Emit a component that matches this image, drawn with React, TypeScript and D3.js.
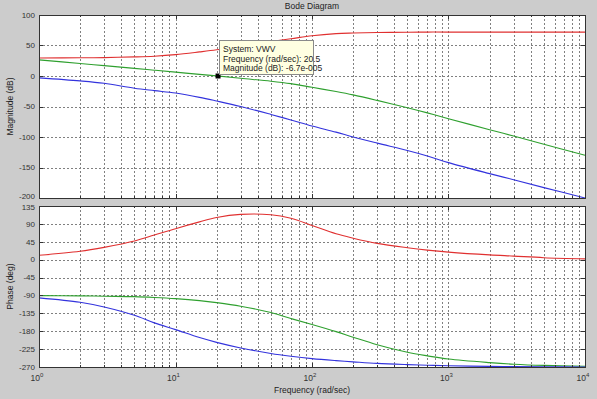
import React from 'react';
import * as d3 from 'd3';

const freq = [1, 2, 3, 5, 7, 10, 15, 20, 30, 50, 70, 100, 150, 200, 300, 500, 700, 1000, 2000, 3000, 5000, 10000];

const redMag = [29.5, 29.8, 30.2, 31.3, 32.5, 35, 39.5, 43, 49, 56.5, 61, 66, 69.5, 70.5, 71.3, 71.8, 72, 72, 72, 72, 72, 72];
const greenMag = [26.5, 20.5, 17, 12.5, 9.5, 6.3, 2.7, 0.2, -3.8, -8.5, -12.5, -18.5, -25.5, -31, -40, -52, -60.5, -70, -88, -98.5, -112, -130];
const blueMag = [-3, -8, -12, -20, -24, -28, -35, -41, -50, -63, -72, -82, -92, -100, -110, -122, -131, -142, -160, -170, -183, -200];

const redPhase = [11, 21, 31, 47, 62, 78, 95, 106, 114, 113, 104, 86, 65, 54, 41, 30, 24, 19, 12, 9, 5, 2];
const greenPhase = [-90.5, -91, -92, -93, -95, -98, -103, -108, -117, -133, -148, -163, -181, -195, -214, -233, -242, -250, -259, -263, -266, -268];
const bluePhase = [-96, -107, -119, -140, -159, -176, -196, -208, -222, -236, -243, -249, -254, -257, -261, -264, -265.5, -267, -268.5, -269, -269.5, -270];

const magTicks = [100, 50, 0, -50, -100, -150, -200];
const phaseTicks = [135, 90, 45, 0, -45, -90, -135, -180, -225, -270];
const decadeExps = [0, 1, 2, 3, 4];

const tipFreq = 20.5;
const tipMag = 0;
const tipLines = ['System: VWV', 'Frequency (rad/sec): 20.5', 'Magnitude (dB): -6.7e-005'];

const W = 597, H = 399;
const FONT = '"Liberation Sans", Arial, sans-serif';

const x = d3.scaleLog().domain([1, 1e4]).range([39, 585]);
const yMag = d3.scaleLinear().domain([-200, 100]).range([198, 15]);
const yPh = d3.scaleLinear().domain([-270, 135]).range([367, 206]);

const minorFreqs: number[] = [];
for (let e = 0; e < 4; e++) for (let k = 1; k <= 9; k++) minorFreqs.push(k * Math.pow(10, e));
minorFreqs.push(10000);

const px = (v: number) => Math.round(v) + 0.5;

function Panel({ y, ticks, series, labelShift }: { y: d3.ScaleLinear<number, number>, ticks: number[], series: { vals: number[], color: string }[], labelShift: (t: number) => number }) {
  const [y0, y1] = y.range();
  const top = Math.min(y0, y1), bot = Math.max(y0, y1);
  const left = x.range()[0], right = x.range()[1];
  const line = d3.line<number>()
    .x((_, i) => x(freq[i]))
    .y(d => y(d))
    .curve(d3.curveCatmullRom.alpha(0.5));
  return (
    <g>
      <rect x={left} y={top} width={right - left} height={bot - top} fill="#fff" />
      {minorFreqs.map(f => (
        <line key={'v' + f} x1={px(x(f))} x2={px(x(f))} y1={top} y2={bot}
          stroke="#808080" strokeDasharray="2,2" strokeWidth={1} />
      ))}
      {ticks.map(t => (
        <line key={'h' + t} x1={left} x2={right} y1={px(y(t))} y2={px(y(t))}
          stroke="#808080" strokeDasharray="2,2" strokeWidth={1} />
      ))}
      {series.map((s, i) => (
        <path key={i} d={line(s.vals) || ''} fill="none" stroke={s.color} strokeWidth={1.1} />
      ))}
      {ticks.map(t => (
        <g key={'t' + t}>
          <line x1={left} x2={left + 4} y1={px(y(t))} y2={px(y(t))} stroke="#333" />
          <line x1={right - 4} x2={right} y1={px(y(t))} y2={px(y(t))} stroke="#333" />
          <text x={left - 4} y={y(t) + labelShift(t)} dy="0.35em" textAnchor="end" fontSize={8} fill="#333" fontFamily={FONT}>{t}</text>
        </g>
      ))}
      {minorFreqs.map(f => {
        const major = Math.abs(Math.log10(f) - Math.round(Math.log10(f))) < 1e-9;
        const len = major ? 4 : 2;
        return (
          <g key={'xt' + f}>
            <line x1={px(x(f))} x2={px(x(f))} y1={top} y2={top + len} stroke="#333" />
            <line x1={px(x(f))} x2={px(x(f))} y1={bot - len} y2={bot} stroke="#333" />
          </g>
        );
      })}
      <rect x={left + 0.5} y={top + 0.5} width={right - left} height={bot - top} fill="none" stroke="#333" strokeWidth={1} />
    </g>
  );
}

export default function App() {
  const mx = x(tipFreq), my = yMag(tipMag);
  return (
    <svg width={W} height={H} style={{ position: 'fixed', left: 0, top: 0 }} fontFamily={FONT}>
      <rect x={0} y={0} width={W} height={H} fill="#cccccc" />
      <text x={312} y={6} dy="0.35em" textAnchor="middle" fontSize={8.5} fill="#222">Bode Diagram</text>

      <Panel y={yMag} ticks={magTicks} labelShift={t => (t === -200 ? -1.5 : 0)} series={[
        { vals: redMag, color: '#e03030' },
        { vals: greenMag, color: '#2fa02f' },
        { vals: blueMag, color: '#3333dd' },
      ]} />
      <Panel y={yPh} ticks={phaseTicks} labelShift={t => (t === 135 ? 1.5 : 0)} series={[
        { vals: redPhase, color: '#e03030' },
        { vals: greenPhase, color: '#2fa02f' },
        { vals: bluePhase, color: '#3333dd' },
      ]} />

      {/* data tip */}
      <rect x={mx - 2.5} y={my - 2.5} width={5} height={5} fill="#000" />
      <rect x={219.5} y={40.5} width={94} height={34} fill="#ffffe1" stroke="#8a8a8a" />
      {tipLines.map((t, i) => (
        <text key={i} x={223} y={49 + i * 9.6} dy="0.35em" fontSize={8.5} fill="#222">{t}</text>
      ))}

      {/* x tick labels 10^n */}
      {decadeExps.map(e => (
        <text key={e} x={x(Math.pow(10, e)) - 2} y={378} dy="0.35em" textAnchor="middle" fontSize={8.5} fill="#333">
          10<tspan dy="-4" fontSize={6}>{e}</tspan>
        </text>
      ))}
      <text x={312} y={390} dy="0.35em" textAnchor="middle" fontSize={8.5} fill="#222">Frequency  (rad/sec)</text>

      <text transform={`translate(10,${(yMag(100) + yMag(-200)) / 2}) rotate(-90)`} dy="0.35em" textAnchor="middle" fontSize={8.5} fill="#222">Magnitude (dB)</text>
      <text transform={`translate(10,${(yPh(135) + yPh(-270)) / 2}) rotate(-90)`} dy="0.35em" textAnchor="middle" fontSize={8.5} fill="#222">Phase (deg)</text>
    </svg>
  );
}
